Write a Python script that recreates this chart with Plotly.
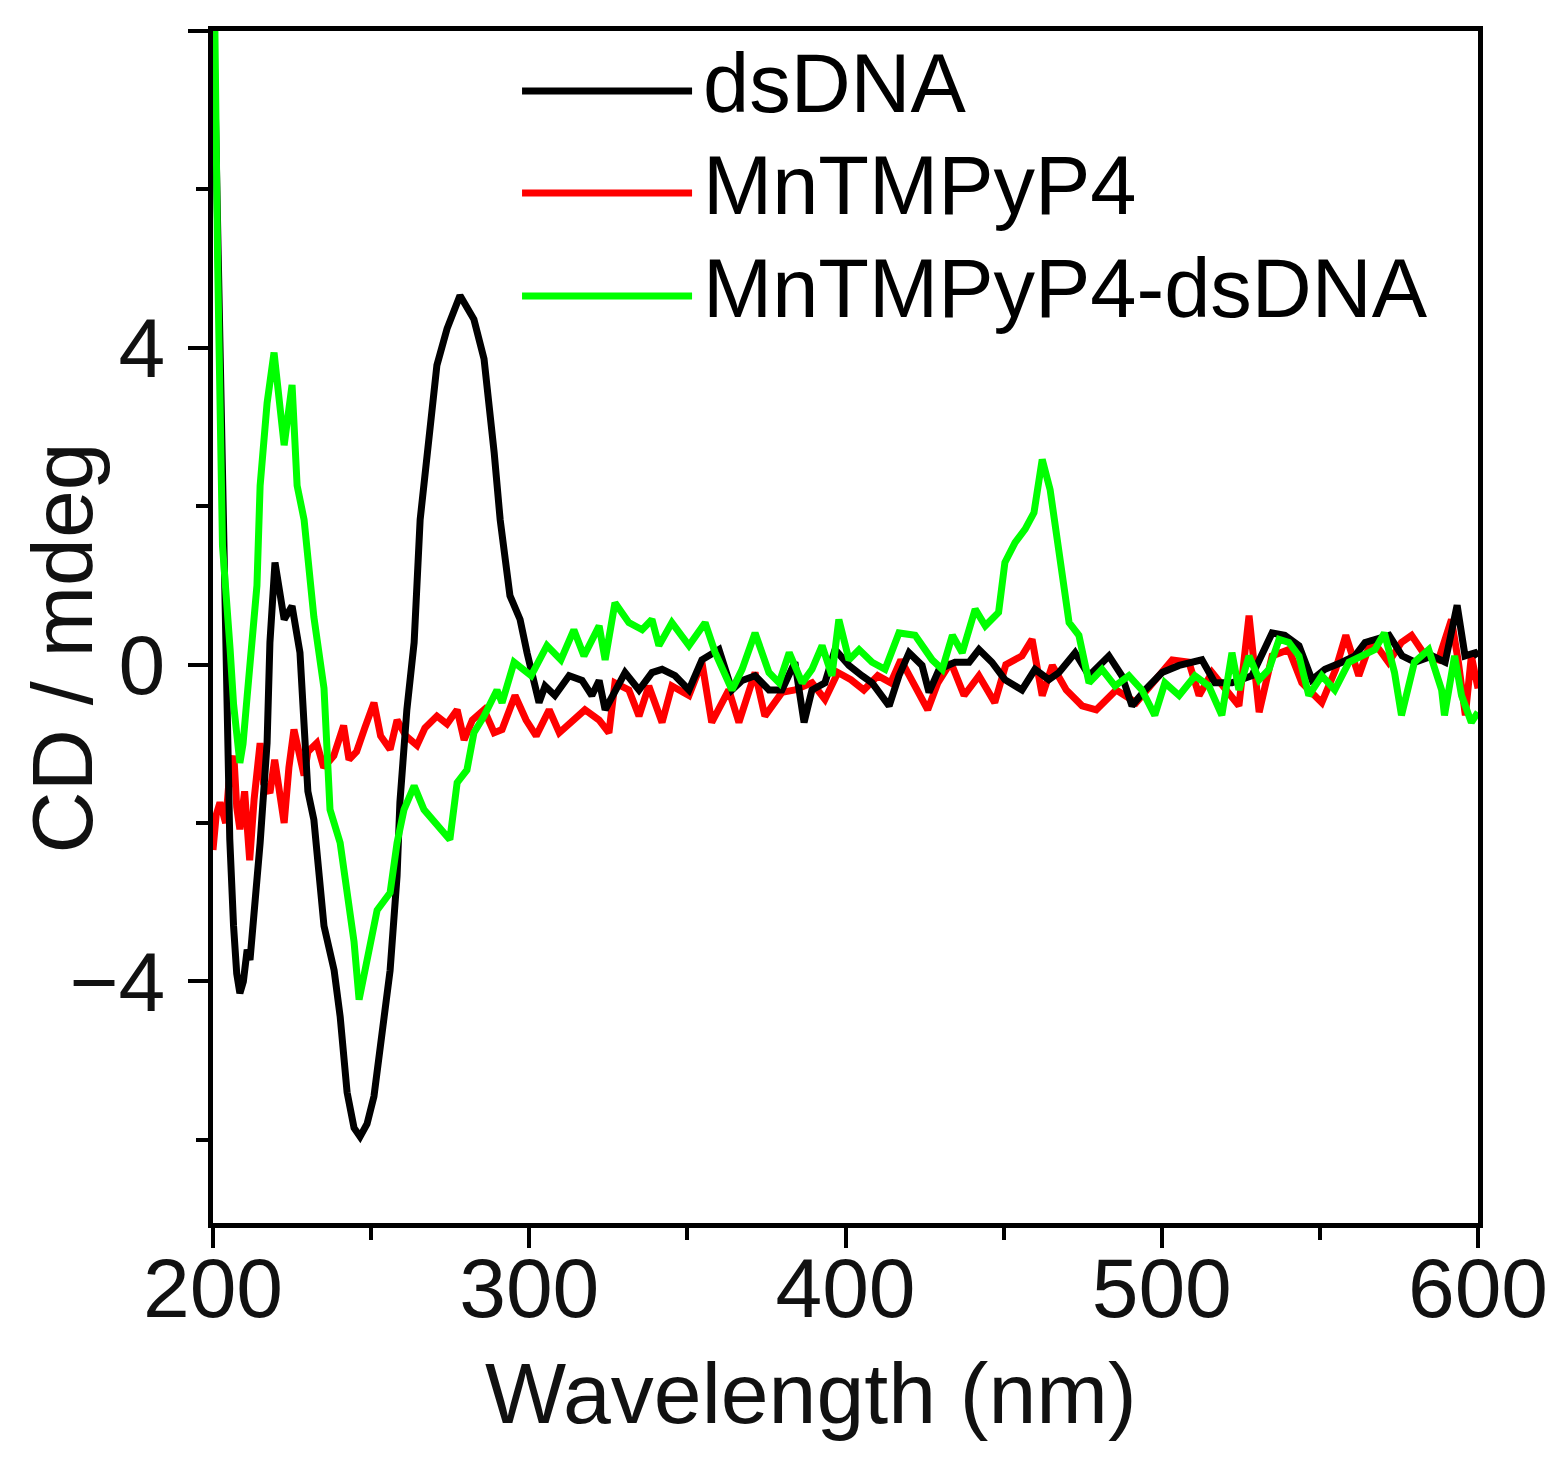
import plotly.graph_objects as go

# --- Data (wavelength in nm, CD in mdeg) ---
dsdna_nm = [200, 201.2, 202.2, 203.2, 204.2, 205.3, 206.5, 207.5, 208.5, 209.6, 210.8, 211.7, 214.9,
            217.1, 218.0, 219.6, 222.5, 225.0, 227.5, 229.0, 230.0, 231.9, 235.1, 238.3, 240.2,
            242.4, 244.6, 246.5, 248.7, 250.9, 254.1, 256.0, 258.2, 259.1, 261.3, 263.6, 265.5,
            268.6, 270.8, 274.0, 278.1, 282.5, 285.7, 288.9, 290.8, 293.9, 297.1, 299.3, 301.8,
            303.1, 305.0, 308.1, 312.6, 316.7, 319.8, 322.1, 324.0, 330.3, 334.7, 338.8, 342.0,
            346.1, 350.5, 354.6, 360.0, 364.1, 367.3, 371.4, 375.8, 379.9, 384.0, 386.9, 389.4,
            393.5, 396.7, 401.1, 405.2, 408.4, 413.8, 416.9, 420.1, 424.2, 426.4, 429.6, 434.6,
            439.1, 442.2, 446.3, 450.4, 455.8, 459.9, 464.3, 467.5, 472.6, 477.0, 483.3, 487.4,
            490.6, 494.7, 500.1, 505.5, 512.7, 516.8, 522.2, 528.5, 534.9, 538.9, 543.4, 547.5,
            551.6, 557.0, 561.1, 564.3, 571.9, 576.0, 580.1, 585.5, 589.6, 593.4, 595.9, 599.1, 600]
dsdna_cd = [8.5, 6.0, 3.5, 1.2, -0.8, -2.2, -3.3, -3.9, -4.15, -4.0, -3.6, -3.73, -2.25,
            -0.99, 0.28, 1.29, 0.57, 0.74, 0.15, -0.9, -1.6, -1.96, -3.3, -3.86, -4.44,
            -5.4, -5.85, -5.96, -5.8, -5.45, -4.36, -3.86, -2.67, -1.74, -0.57, 0.28, 1.83,
            3.1, 3.78, 4.24, 4.66, 4.36, 3.86, 2.68, 1.83, 0.87, 0.57, 0.15, -0.27,
            -0.48, -0.27, -0.39, -0.14, -0.2, -0.39, -0.2, -0.57, -0.1, -0.32, -0.1, -0.06,
            -0.14, -0.32, 0.06, 0.19, -0.32, -0.2, -0.14, -0.32, -0.32, 0.03, -0.73, -0.32,
            -0.23, 0.19, -0.01, -0.14, -0.23, -0.52, -0.14, 0.15, -0.01, -0.35, -0.06, 0.03,
            0.03, 0.19, 0.03, -0.19, -0.32, -0.06, -0.19, -0.1, 0.15, -0.14, 0.11, -0.14,
            -0.52, -0.32, -0.1, -0.01, 0.06, -0.23, -0.23, -0.14, 0.4, 0.37, 0.24, -0.19,
            -0.06, 0.03, 0.11, 0.28, 0.37, 0.11, 0.03, 0.11, 0.03, 0.75, 0.11, 0.15, 0.1]

mn_nm = [200, 201, 202.2, 204, 205, 206.6, 207.5, 208.5, 210, 211.6, 213, 214.9, 216, 218.0,
         219.5, 222.5, 224, 225.6, 228.8, 230, 232.8, 235, 238.2, 241.3, 243, 245.4, 248,
         250.9, 253, 256.0, 258.2, 261, 264.5, 267, 270.8, 274, 277.2, 279.4, 282, 285.7,
         288.9, 291.4, 295.5, 299, 302.2, 306.3, 309.5, 313.6, 317.6, 322.1, 325.2, 327.1,
         331.5, 334.7, 337.8, 342.0, 345.1, 350.5, 354.6, 357.7, 363.1, 366.3, 371.4, 374.5,
         379.9, 384.0, 389.4, 393.5, 397.6, 401.7, 405.8, 410.2, 414.3, 417.5, 421.6, 426.0,
         429.2, 433.3, 437.5, 442.2, 447.2, 450.7, 455.8, 459.0, 462.2, 465.4, 469.8, 474.8,
         479.3, 485.6, 491.9, 496.9, 503.3, 508.6, 511.8, 515.9, 520.3, 524.4, 527.6, 530.8,
         534.9, 540.2, 544.3, 550.6, 555.0, 558.2, 562.3, 566.4, 571.7, 575.8, 579.0, 583.4,
         587.5, 591.6, 593.8, 596.0, 597.9, 600]
mn_cd = [-2.34, -1.9, -1.74, -2.0, -1.5, -1.15, -1.8, -2.08, -1.6, -2.47, -1.7, -0.99, -1.5, -1.62,
         -1.2, -2.0, -1.3, -0.82, -1.4, -1.1, -0.99, -1.3, -1.15, -0.77, -1.2, -1.1, -0.8,
         -0.48, -0.9, -1.07, -0.7, -0.9, -1.02, -0.8, -0.65, -0.75, -0.57, -0.95, -0.7, -0.57,
         -0.86, -0.82, -0.39, -0.7, -0.9, -0.57, -0.86, -0.7, -0.57, -0.7, -0.86, -0.23,
         -0.32, -0.65, -0.27, -0.73, -0.27, -0.39, 0.03, -0.73, -0.32, -0.73, -0.1, -0.65,
         -0.35, -0.32, -0.23, -0.44, -0.1, -0.19, -0.32, -0.14, -0.23, 0.06, -0.23, -0.57,
         -0.23, 0.03, -0.39, -0.14, -0.48, 0.0, 0.11, 0.32, -0.39, -0.01, -0.32, -0.52,
         -0.57, -0.32, -0.48, -0.23, 0.06, 0.03, -0.39, -0.1, -0.32, -0.52, 0.62, -0.6,
         0.11, 0.19, -0.23, -0.48, -0.06, 0.37, -0.14, 0.32, 0.03, 0.28, 0.37, 0.11,
         0.06, 0.57, 0.03, -0.64, 0.11, -0.3]

complex_nm = [200, 200.6, 201.5, 202.2, 203, 205.4, 206.5, 208.5, 209.5, 210.8, 213.9, 214.9,
              217.1, 219.3, 222.5, 225.0, 226.6, 228.8, 231.9, 235.1, 237.0, 240.2, 242.4,
              244.6, 246.2, 248.7, 251.9, 256.0, 258.2, 260.4, 263.6, 266.7, 271.8, 274.9,
              277.2, 280.3, 282.5, 285.7, 289.8, 291.4, 295.2, 300.6, 305.6, 310.0, 314.1,
              317.3, 322.1, 324.0, 327.1, 331.5, 335.7, 338.8, 341.0, 345.1, 350.5, 355.6,
              358.8, 364.1, 367.3, 371.4, 375.8, 379.0, 382.2, 386.3, 389.4, 392.6, 395.7,
              397.9, 401.1, 404.3, 408.4, 412.5, 416.9, 422.0, 427.4, 430.6, 433.8, 436.9,
              441.0, 444.2, 448.4, 450.4, 453.6, 456.8, 459.6, 462.2, 464.7, 467.5, 470.7,
              473.8, 477.0, 481.1, 485.2, 489.6, 493.7, 497.8, 501.0, 505.5, 510.5, 514.9,
              519.0, 522.2, 524.4, 527.6, 530.8, 533.9, 537.1, 540.2, 543.4, 546.5, 550.6,
              554.7, 559.2, 563.3, 567.4, 570.4, 573.6, 575.8, 579.9, 584.4, 588.5, 589.4,
              592.6, 594.8, 597.9, 600]
complex_cd = [8.5, 8.0, 5.0, 2.68, 1.5, 0.2, -0.5, -1.24, -1.0, -0.4, 1.0, 2.26,
              3.3, 3.94, 2.77, 3.53, 2.26, 1.83, 0.6, -0.3, -1.83, -2.25, -2.88,
              -3.5, -4.23, -3.73, -3.1, -2.88, -2.25, -1.83, -1.53, -1.83, -2.08, -2.21,
              -1.49, -1.33, -0.86, -0.65, -0.32, -0.48, 0.03, -0.14, 0.24, 0.06, 0.44,
              0.11, 0.49, 0.06, 0.78, 0.53, 0.44, 0.57, 0.24, 0.53, 0.24, 0.53,
              0.15, -0.32, -0.06, 0.4, -0.1, -0.23, 0.15, -0.23, -0.06, 0.24, -0.14,
              0.57, 0.06, 0.19, 0.03, -0.06, 0.4, 0.37, 0.06, -0.06, 0.37, 0.15,
              0.7, 0.49, 0.66, 1.29, 1.54, 1.71, 1.92, 2.59, 2.21, 1.38, 0.53,
              0.37, -0.23, -0.06, -0.27, -0.14, -0.32, -0.64, -0.23, -0.39, -0.14, -0.27,
              -0.64, 0.15, -0.32, 0.11, -0.19, -0.06, 0.32, 0.28, 0.11, -0.39, -0.14,
              -0.32, 0.03, 0.11, 0.19, 0.4, -0.1, -0.64, 0.03, 0.19, -0.32, -0.64,
              0.11, -0.39, -0.73, -0.6]

series = [
    ('dsDNA', dsdna_nm, dsdna_cd, 'rgb(0,0,0)'),
    ('MnTMPyP4', mn_nm, mn_cd, 'rgb(255,0,0)'),
    ('MnTMPyP4-dsDNA', complex_nm, complex_cd, 'rgb(0,255,0)'),
]

FONT = 'Liberation Sans, Arial, sans-serif'
TEXT = '#111111'

fig = go.Figure()
# red first, then black, green on top (as in the figure)
for name, x, y, color in [series[1], series[0], series[2]]:
    fig.add_trace(go.Scatter(x=x, y=y, mode='lines', name=name,
                             line=dict(color=color, width=7), showlegend=False))

# --- Hand-drawn legend (long line samples like the original) ---
legend_rows = [0.9497, 0.8641, 0.7777]
for (name, _, _, color), yrow in zip(series, legend_rows):
    fig.add_shape(type='line', xref='paper', yref='paper',
                  x0=0.2443, x1=0.3787, y0=yrow, y1=yrow,
                  line=dict(color=color, width=7))
    fig.add_annotation(text=name, xref='paper', yref='paper', x=0.386, y=yrow + 0.006,
                       xanchor='left', yanchor='middle', showarrow=False,
                       font=dict(family=FONT, size=83, color='black'))

# axis titles as annotations for exact placement
fig.add_annotation(text='Wavelength (nm)', xref='paper', yref='paper', x=0.4727, y=-0.143,
                   xanchor='center', yanchor='middle', showarrow=False,
                   font=dict(family=FONT, size=86, color=TEXT))
fig.add_annotation(text='CD / mdeg', xref='paper', yref='paper', x=-0.119, y=0.4824,
                   xanchor='center', yanchor='middle', showarrow=False, textangle=-90,
                   font=dict(family=FONT, size=86, color=TEXT))

fig.update_layout(
    width=1560, height=1470,
    margin=dict(l=205, r=90, t=23, b=255),
    paper_bgcolor='white', plot_bgcolor='white',
    font=dict(family=FONT, size=84, color='black'),
)
fig.update_xaxes(range=[200, 600], dtick=100, tick0=200, showgrid=False, zeroline=False,
                 showline=True, linecolor='black', linewidth=5, mirror=True,
                 ticks='outside', ticklen=20, tickwidth=4, tickcolor='black',
                 ticklabelstandoff=-32,
                 minor=dict(dtick=50, ticks='outside', ticklen=12, tickwidth=4, tickcolor='black'),
                 tickfont=dict(family=FONT, size=84, color=TEXT))
fig.update_yaxes(range=[-7.05, 8.0], dtick=4, tick0=0, showgrid=False, zeroline=False,
                 showline=True, linecolor='black', linewidth=5, mirror=True,
                 ticks='outside', ticklen=20, tickwidth=4, tickcolor='black',
                 ticklabelstandoff=6,
                 minor=dict(dtick=2, ticks='outside', ticklen=12, tickwidth=4, tickcolor='black'),
                 tickfont=dict(family=FONT, size=84, color=TEXT))

fig.write_html("out.html")
